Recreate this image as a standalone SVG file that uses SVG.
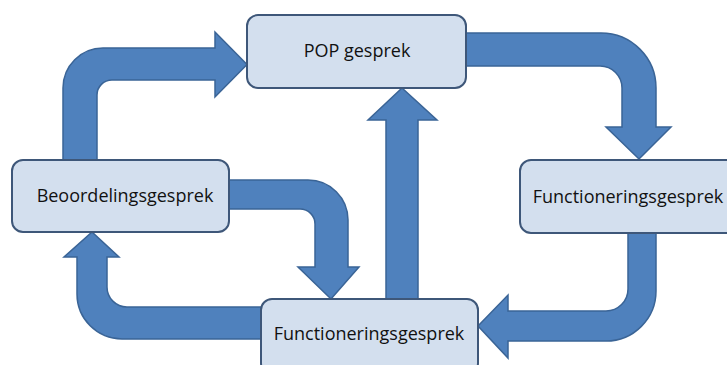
<svg xmlns="http://www.w3.org/2000/svg" width="727" height="365" viewBox="0 0 727 365">
<style>
.arrow{fill:#4F81BD;stroke:#3A6496;stroke-width:1.5;stroke-linejoin:miter}
.box{fill:#D3DFEE;stroke:#3E5779;stroke-width:2}
.lbl{font-family:"Open Sans","Liberation Sans",sans-serif;font-size:18px;fill:#111;text-anchor:middle}
</style>
<rect width="727" height="365" fill="#fff"/>
<g id="connectors">
<path class="arrow" d="M63,165 L63,88 A40,40 0 0 1 103,48 L215,48 L215,32 L247,64.5 L215,97 L215,80 L112,80 A15,15 0 0 0 97,95 L97,165 Z"/>
<path class="arrow" d="M460,33 L601,33 A55,55 0 0 1 656,88 L656,127 L671,127 L639,159 L606,127 L622,127 L622,88 A22,22 0 0 0 600,66 L460,66 Z"/>
<path class="arrow" d="M656,228 L656,291 A50,50 0 0 1 606,341 L508,341 L508,358 L478,326 L508,295 L508,311 L606,311 A22,22 0 0 0 628,289 L628,228 Z"/>
<path class="arrow" d="M386,305 L386,120 L368,120 L402,88 L437,120 L418,120 L418,305 Z"/>
<path class="arrow" d="M224,180 L308,180 A40,40 0 0 1 348,220 L348,267 L359,267 L331,299 L298,267 L315,267 L315,224 A15,15 0 0 0 300,209 L224,209 Z"/>
<path class="arrow" d="M266,307 L127,307 A20,20 0 0 1 107,287 L107,257 L119,257 L92,232 L64,257 L77,257 L77,294 A45,45 0 0 0 122,339 L266,339 Z"/>
</g>
<g id="pop">
<rect class="box" x="247" y="15" width="219" height="73" rx="11"/>
<text class="lbl" x="357" y="57">POP gesprek</text>
</g>
<g id="beoordeling">
<rect class="box" x="12" y="160" width="217" height="72" rx="11"/>
<text class="lbl" x="125" y="202">Beoordelingsgesprek</text>
</g>
<g id="functionering-rechts">
<rect class="box" x="520" y="160" width="220" height="73" rx="11"/>
<text class="lbl" x="628" y="203">Functioneringsgesprek</text>
</g>
<g id="functionering-onder">
<rect class="box" x="261" y="299" width="217" height="75" rx="11"/>
<text class="lbl" x="369" y="340">Functioneringsgesprek</text>
</g>
</svg>
